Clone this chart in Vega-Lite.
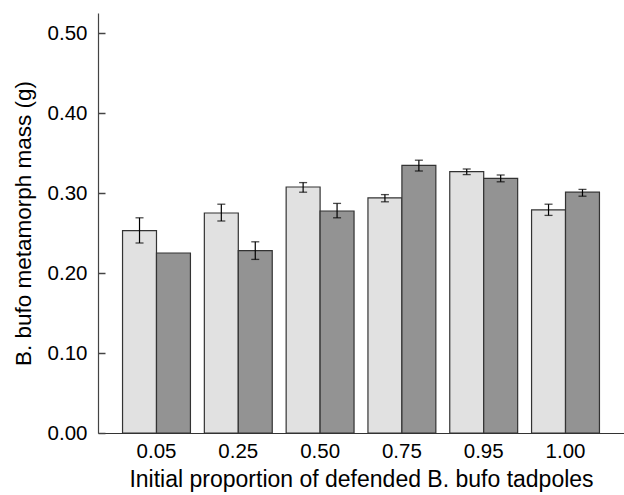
{
  "$schema": "https://vega.github.io/schema/vega-lite/v6.json",
  "width": 526,
  "height": 420,
  "autosize": "none",
  "padding": {"left": 98, "top": 13, "right": 0, "bottom": 62},
  "background": "white",
  "config": {"view": {"stroke": null}, "font": "Liberation Sans"},
  "data": {
    "values": [
      {"prop": "0.05", "group": "light", "mean": 0.253, "lo": 0.2375, "hi": 0.269},
      {"prop": "0.05", "group": "dark", "mean": 0.225, "lo": null, "hi": null},
      {"prop": "0.25", "group": "light", "mean": 0.275, "lo": 0.265, "hi": 0.286},
      {"prop": "0.25", "group": "dark", "mean": 0.228, "lo": 0.217, "hi": 0.239},
      {"prop": "0.50", "group": "light", "mean": 0.3075, "lo": 0.301, "hi": 0.313},
      {"prop": "0.50", "group": "dark", "mean": 0.2775, "lo": 0.269, "hi": 0.287},
      {"prop": "0.75", "group": "light", "mean": 0.294, "lo": 0.289, "hi": 0.298},
      {"prop": "0.75", "group": "dark", "mean": 0.3345, "lo": 0.3275, "hi": 0.341},
      {"prop": "0.95", "group": "light", "mean": 0.3267, "lo": 0.323, "hi": 0.330},
      {"prop": "0.95", "group": "dark", "mean": 0.3183, "lo": 0.314, "hi": 0.3225},
      {"prop": "1.00", "group": "light", "mean": 0.279, "lo": 0.272, "hi": 0.286},
      {"prop": "1.00", "group": "dark", "mean": 0.301, "lo": 0.296, "hi": 0.3045}
    ]
  },
  "encoding": {
    "x": {
      "field": "prop",
      "type": "nominal",
      "sort": null,
      "scale": {"paddingInner": 0.17, "paddingOuter": 0.3},
      "axis": {
        "title": "Initial proportion of defended B. bufo tadpoles",
        "labelAngle": 0,
        "ticks": false,
        "labelPadding": 8,
        "labelFontSize": 20.5,
        "labelColor": "black",
        "titleFontSize": 23,
        "titleFontWeight": "normal",
        "titleColor": "black",
        "titlePadding": 7,
        "domainColor": "#333",
        "domainWidth": 1.2
      }
    },
    "xOffset": {
      "field": "group",
      "type": "nominal",
      "sort": ["light", "dark"],
      "scale": {"paddingInner": 0, "paddingOuter": 0}
    }
  },
  "layer": [
    {
      "mark": {"type": "bar", "stroke": "#333", "strokeWidth": 1.2},
      "encoding": {
        "y": {
          "field": "mean",
          "type": "quantitative",
          "scale": {"domain": [0, 0.525], "nice": false},
          "axis": {
            "title": "B. bufo metamorph mass (g)",
            "values": [0, 0.1, 0.2, 0.3, 0.4, 0.5],
            "format": ".2f",
            "grid": false,
            "tickSize": -7,
            "tickColor": "#444",
            "tickWidth": 1.5,
            "labelPadding": 18,
            "labelFontSize": 20.5,
            "labelColor": "black",
            "titleFontSize": 22.5,
            "titleFontWeight": "normal",
            "titleColor": "black",
            "titlePadding": 12,
            "domainColor": "#444",
            "domainWidth": 1.2
          }
        },
        "color": {
          "field": "group",
          "type": "nominal",
          "scale": {"domain": ["light", "dark"], "range": ["#e1e1e1", "#939393"]},
          "legend": null
        }
      }
    },
    {
      "mark": {"type": "rule", "color": "black", "strokeWidth": 1.2},
      "encoding": {
        "y": {"field": "lo", "type": "quantitative"},
        "y2": {"field": "hi"}
      }
    },
    {
      "mark": {"type": "tick", "color": "black", "size": 8, "thickness": 1.3},
      "encoding": {"y": {"field": "lo", "type": "quantitative"}}
    },
    {
      "mark": {"type": "tick", "color": "black", "size": 8, "thickness": 1.3},
      "encoding": {"y": {"field": "hi", "type": "quantitative"}}
    }
  ]
}
